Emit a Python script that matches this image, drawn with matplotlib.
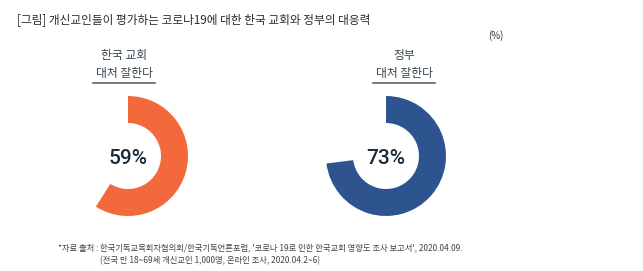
import numpy as np
import matplotlib.pyplot as plt

plt.rcParams['font.family'] = ['Noto Sans CJK KR', 'DejaVu Sans']

# data
groups = ["한국 교회", "정부"]
sub_label = "대처 잘한다"
values = [59, 73]
colors = ["#F4693B", "#2E5490"]

title = "[그림] 개신교인들이 평가하는 코로나19에 대한 한국 교회와 정부의 대응력"
unit = "(%)"
note1 = "*자료 출처 : "
note1b = "한국기독교목회자협의회/한국기독언론포럼, '코로나 19로 인한 한국교회 영향도 조사 보고서', 2020.04.09."
note2 = "(전국 만 18~69세 개신교인 1,000명, 온라인 조사, 2020.04.2~6)"

W, H = 643, 271
fig = plt.figure(figsize=(W / 100, H / 100), dpi=100)
ax = fig.add_axes([0, 0, 1, 1])

centers_x = [128, 386]
center_y = H - 156
label_x = [124, 404]

for i, v in enumerate(values):
    ax.pie([v, 100 - v], colors=[colors[i], "none"], startangle=90,
           counterclock=False, radius=60, center=(centers_x[i], center_y),
           wedgeprops=dict(width=27, linewidth=0))
    ax.text(centers_x[i], center_y - 2, f"{v}%", ha="center", va="center",
            fontsize=15, family=["Roboto", "DejaVu Sans"], fontweight="medium",
            color="#1c2b3a")
    ax.text(label_x[i], H - 55, groups[i], ha="center", va="center",
            fontsize=8.5, color="#35454f")
    ax.text(label_x[i], H - 74, sub_label, ha="center", va="center",
            fontsize=8.5, color="#35454f")
    ax.plot([label_x[i] - 31, label_x[i] + 31], [H - 83, H - 83],
            color="#5b6670", lw=1.2)

ax.text(17, H - 20, title, ha="left", va="center", fontsize=8.4, color="#2b2b2b")
ax.text(496, H - 36, unit, ha="center", va="center", fontsize=7, color="#333333")
ax.text(100, H - 248, note1, ha="right", va="center", fontsize=6, color="#444444")
ax.text(100, H - 248, note1b, ha="left", va="center", fontsize=6, color="#444444")
ax.text(100, H - 261, note2, ha="left", va="center", fontsize=6, color="#444444")

ax.set_xlim(0, W)
ax.set_ylim(0, H)
ax.set_aspect("auto")
ax.axis("off")

fig.savefig("out.png", dpi=100, facecolor="white")
